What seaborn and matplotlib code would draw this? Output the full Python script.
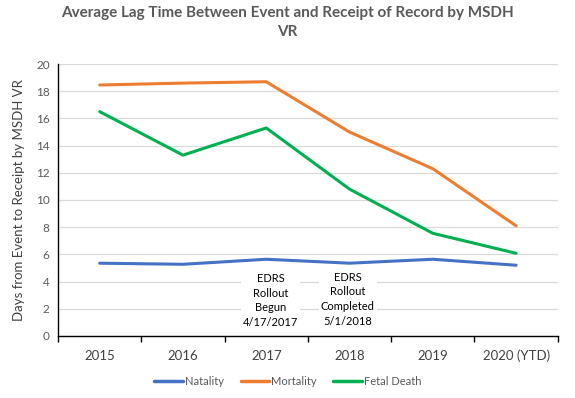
import matplotlib
matplotlib.use("Agg")
import matplotlib.pyplot as plt
import seaborn as sns
import pandas as pd

years = ["2015", "2016", "2017", "2018", "2019", "2020 (YTD)"]
natality = [5.35, 5.27, 5.64, 5.35, 5.64, 5.2]
mortality = [18.46, 18.6, 18.7, 15.0, 12.3, 8.1]
fetal_death = [16.5, 13.3, 15.3, 10.8, 7.55, 6.08]
series_names = ["Natality", "Mortality", "Fetal Death"]
colors = ["#4472C4", "#ED7D31", "#00B050"]

rows = []
for name, vals in zip(series_names, [natality, mortality, fetal_death]):
    for i, (y, v) in enumerate(zip(years, vals)):
        rows.append({"idx": i, "Year": y, "Series": name, "Value": v})
df = pd.DataFrame(rows)

sns.set_theme(style="white")
plt.rcParams["font.family"] = ["Lato", "DejaVu Sans"]

fig = plt.figure(figsize=(5.75, 3.98), dpi=100)
ax = fig.add_axes([0.101, 0.156, 0.869, 0.683])

ax.set_ylim(0, 20)
ax.set_xlim(-0.5, 5.5)
ax.set_yticks(range(0, 21, 2))
ax.grid(axis="y", color="#D9D9D9", linewidth=0.9)
ax.set_axisbelow(True)

sns.lineplot(data=df, x="idx", y="Value", hue="Series", palette=colors,
             hue_order=series_names, linewidth=2.2, ax=ax, legend=True)

# annotations
ax.text(2.05, 2.6, "EDRS\nRollout\nBegun\n4/17/2017", ha="center", va="center",
        fontsize=8, color="black", linespacing=1.4,
        bbox=dict(facecolor="white", edgecolor="none", pad=1.5), zorder=5)
ax.text(2.98, 2.7, "EDRS\nRollout\nCompleted\n5/1/2018", ha="center", va="center",
        fontsize=8, color="black", linespacing=1.4,
        bbox=dict(facecolor="white", edgecolor="none", pad=1.5), zorder=5)

for s in ["top", "right"]:
    ax.spines[s].set_visible(False)
for s in ["left", "bottom"]:
    ax.spines[s].set_color("black")
    ax.spines[s].set_linewidth(1.0)

ax.set_xticks(range(len(years)))
ax.set_xticklabels(years, fontsize=9.5, color="#404040")
ax.set_xticks([i - 0.5 for i in range(len(years) + 1)], minor=True)
ax.tick_params(axis="x", which="major", length=0, pad=10)
ax.tick_params(axis="x", which="minor", length=4, color="black", width=1, direction="out", bottom=True)
ax.tick_params(axis="y", length=0, labelsize=8.5, labelcolor="#595959", pad=6)

ax.set_xlabel("")
ax.set_ylabel("Days from Event to Receipt by MSDH VR", fontsize=9.5, color="#404040", labelpad=8)

fig.suptitle("Average Lag Time Between Event and Receipt of Record by MSDH\nVR",
             x=0.5, y=0.985, fontsize=11, fontweight="bold", color="#595959", linespacing=1.45)

leg = ax.legend(loc="upper center", bbox_to_anchor=(0.46, -0.13), ncol=3, frameon=False,
                fontsize=8, handlelength=2.6, handletextpad=0.15, columnspacing=1.5, borderaxespad=0)
for t in leg.get_texts():
    t.set_color("#595959")
for l in leg.get_lines():
    l.set_linewidth(2.5)

fig.savefig("out.png", dpi=100)
